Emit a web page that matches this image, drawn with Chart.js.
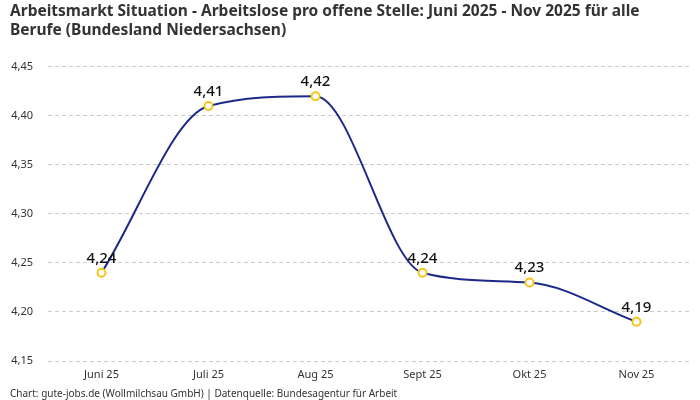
<!DOCTYPE html>
<html lang="de">
<head>
    <meta charset="UTF-8">
    <title>Arbeitsmarkt Situation Niedersachsen</title>
    <script src="https://cdn.jsdelivr.net/npm/chart.js"></script>
    <style>
        html, body {
            margin: 0;
            padding: 0;
            background: #fff;
        }
        #wrap {
            width: 700px;
            height: 400px;
        }
    </style>
</head>
<body>
    <div id="wrap"><canvas id="chart"></canvas></div>

    <script>
        const monate = ['Juni 25', 'Juli 25', 'Aug 25', 'Sept 25', 'Okt 25', 'Nov 25'];
        const arbeitslosePro = [4.24, 4.41, 4.42, 4.24, 4.23, 4.19];

        const fmt = (v) => v.toFixed(2).replace('.', ',');

        // Werte über die Punkte schreiben
        const wertLabels = {
            id: 'wertLabels',
            afterDatasetsDraw(chart) {
                const c = chart.ctx;
                const meta = chart.getDatasetMeta(0);
                c.save();
                c.font = '500 15px "Noto Sans"';
                c.fillStyle = '#111';
                c.textAlign = 'center';
                c.textBaseline = 'bottom';
                meta.data.forEach((pt, i) => {
                    c.fillText(fmt(chart.data.datasets[0].data[i]), pt.x, pt.y - 7);
                });
                c.restore();
            }
        };

        const ctx = document.getElementById('chart').getContext('2d');
        new Chart(ctx, {
            type: 'line',
            data: {
                labels: monate,
                datasets: [{
                    label: 'Arbeitslose pro offene Stelle',
                    data: arbeitslosePro,
                    borderColor: '#1b2a8a',
                    borderWidth: 2,
                    cubicInterpolationMode: 'monotone',
                    pointRadius: 4,
                    pointBorderWidth: 2,
                    pointBackgroundColor: '#fff',
                    pointBorderColor: '#f5c518'
                }]
            },
            options: {
                responsive: true,
                maintainAspectRatio: false,
                animation: false,
                layout: {
                    padding: { left: 10, right: 10, top: 0, bottom: 0 }
                },
                plugins: {
                    legend: { display: false },
                    tooltip: { enabled: false },
                    title: {
                        display: true,
                        align: 'start',
                        text: ['Arbeitsmarkt Situation - Arbeitslose pro offene Stelle: Juni 2025 - Nov 2025 für alle',
                               'Berufe (Bundesland Niedersachsen)'],
                        color: '#333',
                        font: { family: '"Noto Sans"', size: 15.5, weight: 'bold', lineHeight: 1.22 },
                        padding: { top: 2, bottom: 27 }
                    },
                    subtitle: {
                        display: true,
                        position: 'bottom',
                        align: 'start',
                        text: 'Chart: gute-jobs.de (Wollmilchsau GmbH) | Datenquelle: Bundesagentur für Arbeit',
                        color: '#333',
                        font: { family: '"Noto Sans"', size: 10 },
                        padding: { top: 0, bottom: 0 }
                    }
                },
                scales: {
                    x: {
                        offset: true,
                        grid: { display: false, drawTicks: false },
                        border: { display: false },
                        ticks: {
                            color: '#333',
                            font: { family: '"Noto Sans"', size: 11, lineHeight: 1 },
                            padding: 8
                        }
                    },
                    y: {
                        min: 4.15,
                        max: 4.45,
                        border: { display: false, dash: [4, 3] },
                        grid: { color: '#cccccc', drawTicks: false },
                        afterFit(scale) { scale.width = 38; },
                        ticks: {
                            stepSize: 0.05,
                            color: '#333',
                            padding: 15,
                            font: { family: '"Noto Sans"', size: 11 },
                            callback: (v) => fmt(v)
                        }
                    }
                }
            },
            plugins: [wertLabels]
        });
    </script>
</body>
</html>
